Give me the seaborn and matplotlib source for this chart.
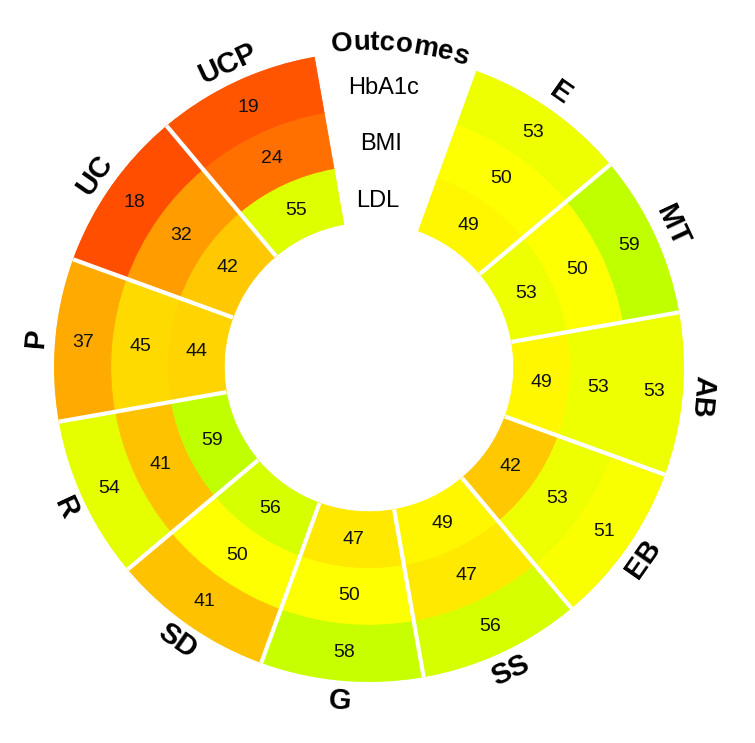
import numpy as np
import matplotlib
matplotlib.use("Agg")
import matplotlib.pyplot as plt
import seaborn as sns
from matplotlib.colors import LinearSegmentedColormap, Normalize
from matplotlib.font_manager import FontProperties
from matplotlib.textpath import text_to_path

# data: one value per group and outcome (outer ring = HbA1c)
groups = ["E", "MT", "AB", "EB", "SS", "G", "SD", "R", "P", "UC", "UCP"]
outcomes = ["LDL", "BMI", "HbA1c"]  # inner -> outer
ldl = [49, 53, 49, 42, 49, 47, 56, 59, 44, 42, 55]
bmi = [50, 50, 53, 53, 47, 50, 50, 41, 45, 32, 24]
hba1c = [53, 59, 53, 51, 56, 58, 41, 54, 37, 18, 19]
rings = [ldl, bmi, hba1c]

sns.set_theme(style="white")
plt.rcParams["font.family"] = ["Liberation Sans", "DejaVu Sans"]
plt.rcParams["text.color"] = "black"

# red -> orange -> yellow -> chartreuse colour scale
vmin, vmax = 18, 60
stops = [(18, "#ff4e00"), (24, "#ff7000"), (32, "#ff9c00"), (37, "#ffaa00"),
         (42, "#ffc800"), (45, "#ffda00"), (50, "#ffff00"), (53, "#eeff00"),
         (56, "#d6ff00"), (60, "#b8ff00")]
cmap = LinearSegmentedColormap.from_list(
    "ryg", [((v - vmin) / (vmax - vmin), c) for v, c in stops])
norm = Normalize(vmin=vmin, vmax=vmax)

# geometry (radial unit = one ring)
R_IN = 2.55
R_OUT = R_IN + len(rings)
PX_PER_UNIT = 315 / R_OUT
start_deg = 20
step_deg = 30
centers_deg = start_deg + step_deg / 2 + step_deg * np.arange(len(groups))
theta = np.deg2rad(centers_deg)

fig = plt.figure(figsize=(7.55, 7.43), dpi=100)
ax = fig.add_axes([0.0715, 0.0821, 0.8344, 0.8479], projection="polar")
ax.set_theta_zero_location("N")
ax.set_theta_direction(-1)
ax.set_ylim(0, R_OUT)
ax.axis("off")

for i, vals in enumerate(rings):
    cols = cmap(norm(np.array(vals)))
    ax.bar(theta, 1.0, width=np.deg2rad(step_deg), bottom=R_IN + i,
           color=cols, edgecolor=cols, linewidth=0.6, align="center")
    for t, v in zip(theta, vals):
        ax.text(t, R_IN + i + 0.5, str(v), ha="center", va="center",
                fontsize=14, color="#111111")

# white separators between groups
for k in range(1, len(groups)):
    t = np.deg2rad(start_deg + step_deg * k)
    ax.plot([t, t], [R_IN, R_OUT], color="white", lw=3, solid_capstyle="butt")

# group labels around the outside
for t, deg, name in zip(theta, centers_deg, groups):
    rot = 180 - deg if 100 < deg < 260 else -deg
    ax.text(t, 5.9, name, rotation=rot, rotation_mode="anchor",
            ha="center", va="center", fontsize=21, fontweight="bold")

# ring names in the gap
gap_deg = 3
for i, name in enumerate(outcomes):
    ax.text(np.deg2rad(gap_deg), R_IN + i + 0.38, name, ha="center",
            va="center", fontsize=17)

# curved "Outcomes" title
title = "Outcomes"
fp = FontProperties(family="Liberation Sans", weight="bold", size=20)
r_base = 5.585
r_px = r_base * PX_PER_UNIT
widths = [text_to_path.get_text_width_height_descent(title[:j], fp, ismath=False)[0]
          if j > 0 else 0.0 for j in range(len(title) + 1)]
widths = np.array(widths) * 100 / 72
total = widths[-1]
for j, ch in enumerate(title):
    xc = (widths[j] + widths[j + 1]) / 2 - total / 2
    d = 5.5 + np.rad2deg(xc / r_px)
    ax.text(np.deg2rad(d), r_base, ch, rotation=-d, rotation_mode="anchor",
            ha="center", va="baseline", fontproperties=fp)

fig.savefig("out.png", dpi=100, facecolor="white")
